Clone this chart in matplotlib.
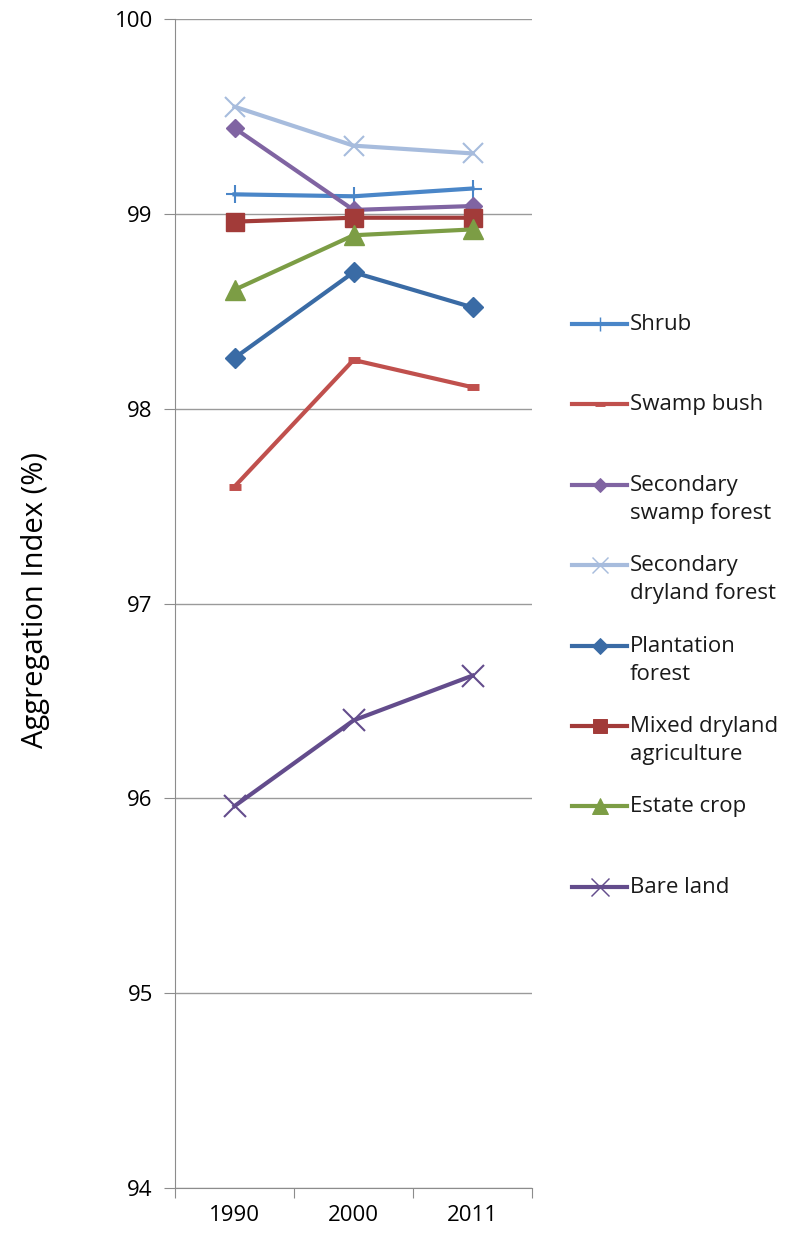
import numpy as np
import matplotlib.pyplot as plt
from matplotlib.lines import Line2D

plt.rcParams['font.family'] = ['Open Sans', 'DejaVu Sans']

# --- Données ---
years = ["1990", "2000", "2011"]
shrub = [99.10, 99.09, 99.13]
swamp_bush = [97.60, 98.25, 98.11]
sec_swamp_forest = [99.44, 99.02, 99.04]
sec_dryland_forest = [99.55, 99.35, 99.31]
plantation_forest = [98.26, 98.70, 98.52]
mixed_dryland = [98.96, 98.98, 98.98]
estate_crop = [98.61, 98.89, 98.92]
bare_land = [95.96, 96.40, 96.63]

# --- Style des séries ---
series = [
    ("Shrub", shrub, "#4A86C8", "+", 13, 1.5),
    ("Swamp bush", swamp_bush, "#C0504D", "_", 9, 5),
    ("Secondary\nswamp forest", sec_swamp_forest, "#8064A2", "D", 9, 1),
    ("Secondary\ndryland forest", sec_dryland_forest, "#A7BCDD", "x", 15, 1.5),
    ("Plantation\nforest", plantation_forest, "#3A6BA5", "D", 10, 1),
    ("Mixed dryland\nagriculture", mixed_dryland, "#A23B39", "s", 13, 1),
    ("Estate crop", estate_crop, "#7C9D45", "^", 15, 1),
    ("Bare land", bare_land, "#634C8C", "x", 16, 1.5),
]

fig = plt.figure(figsize=(8.07, 12.34), dpi=100)
ax = fig.add_axes([175 / 807, 46 / 1234, 357 / 807, 1169 / 1234])

x = np.arange(len(years))
for label, vals, col, mk, ms, mew in series:
    ax.plot(x, vals, color=col, lw=3, marker=mk, ms=ms, mew=mew,
            mec=col, mfc=col, label=label, zorder=3)

# --- Axes ---
ax.set_ylim(94, 100)
ax.set_yticks(np.arange(94, 101, 1))
ax.set_xlim(-0.5, 2.5)
ax.set_xticks([-0.5, 0.5, 1.5, 2.5])
ax.set_xticklabels([])
ax.set_xticks(x, minor=True)
ax.set_xticklabels(years, minor=True, fontsize=16)
ax.tick_params(axis="x", which="minor", length=0, pad=12)
ax.tick_params(axis="x", which="major", length=7, color="#8C8C8C")
ax.tick_params(axis="y", length=8, color="#8C8C8C", labelsize=16, pad=8)
ax.grid(axis="y", color="#9A9A9A", lw=1, zorder=0)
for s in ["top", "right"]:
    ax.spines[s].set_visible(False)
for s in ["left", "bottom"]:
    ax.spines[s].set_color("#8C8C8C")
ax.set_ylabel("Aggregation Index (%)", fontsize=21)
ax.yaxis.set_label_coords(-0.35, 0.503)

# --- Légende (entrées façon Excel, espacement régulier) ---
y0, step = 324, 80.4
for i, (label, vals, col, mk, ms, mew) in enumerate(series):
    yy = 1 - (y0 + i * step) / 1234
    fig.add_artist(Line2D([572 / 807, 627 / 807], [yy, yy], color=col, lw=3,
                          transform=fig.transFigure))
    fig.add_artist(Line2D([599.5 / 807], [yy], color=col, marker=mk,
                          ms=ms * 0.8, mew=mew * 0.7, mec=col, mfc=col,
                          lw=0, transform=fig.transFigure))
    fig.text(630 / 807, yy + 10 / 1234, label, fontsize=16, va="top",
             ha="left", color="#1A1A1A", linespacing=1.45)

plt.savefig("out.png", dpi=100)
